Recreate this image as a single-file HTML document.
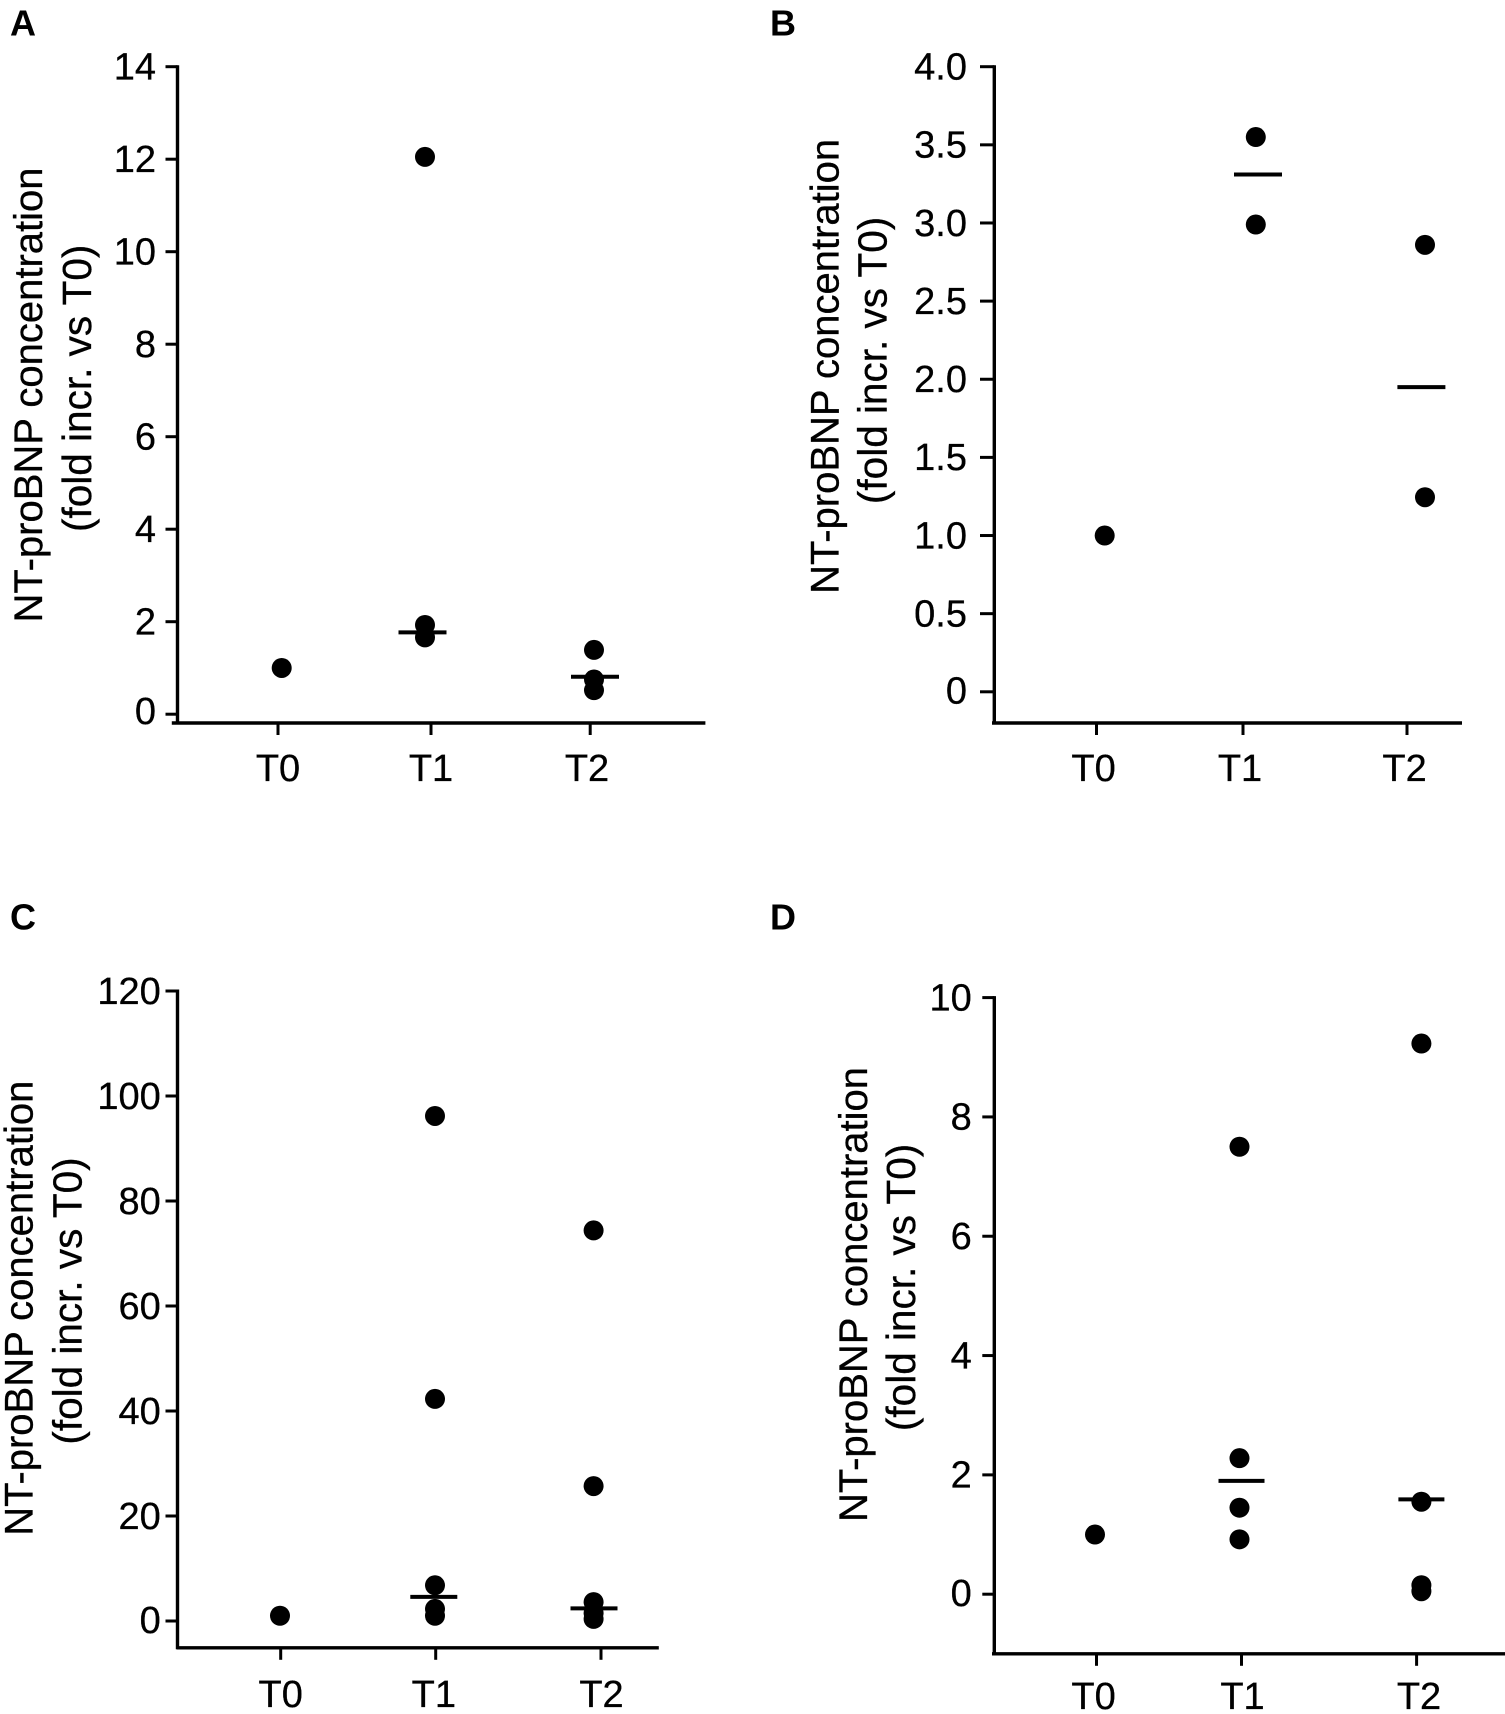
<!DOCTYPE html>
<html lang="en">
<head>
<meta charset="utf-8">
<title>NT-proBNP concentration panels</title>
<style>
html,body{margin:0;padding:0;background:#fff;}
svg{display:block;}
text{font-family:"Liberation Sans",Arial,sans-serif;fill:#000;}
.tick{font-size:38px;stroke:#000;stroke-width:0.3px;}
.title{font-size:40px;text-anchor:middle;stroke:#000;stroke-width:0.3px;}
.subtitle{font-size:40.5px;text-anchor:middle;stroke:#000;stroke-width:0.3px;}
.letter{font-size:36px;font-weight:bold;}
</style>
</head>
<body>
<svg id="figure" width="1505" height="1714" viewBox="0 0 1505 1714" xmlns="http://www.w3.org/2000/svg">
  <rect x="0" y="0" width="1505" height="1714" fill="#fff"/>
  <text class="letter" x="10" y="35.5">A</text>
  <text class="letter" x="770" y="35.5">B</text>
  <text class="letter" x="10" y="929.5">C</text>
  <text class="letter" x="770" y="929.5">D</text>

  <text class="title" transform="translate(42.2 395) rotate(-90)">NT-proBNP concentration</text>
  <text class="subtitle" transform="translate(91 388.3) rotate(-90)">(fold incr. vs T0)</text>
  <text class="title" transform="translate(838.4 366.4) rotate(-90)">NT-proBNP concentration</text>
  <text class="subtitle" transform="translate(886.4 360.4) rotate(-90)">(fold incr. vs T0)</text>
  <text class="title" transform="translate(32.6 1308.2) rotate(-90)">NT-proBNP concentration</text>
  <text class="subtitle" transform="translate(81.6 1301) rotate(-90)">(fold incr. vs T0)</text>
  <text class="title" transform="translate(867.2 1294.5) rotate(-90)">NT-proBNP concentration</text>
  <text class="subtitle" transform="translate(915 1287.4) rotate(-90)">(fold incr. vs T0)</text>
</svg>
<script>
// Shared categories
var categories = ['T0', 'T1', 'T2'];

// Panel A values
var aTickValues = [0, 2, 4, 6, 8, 10, 12, 14];
var aTickLabels = ['0', '2', '4', '6', '8', '10', '12', '14'];
var aT0 = [1];
var aT1 = [12.05, 1.93, 1.66];
var aT2 = [1.39, 0.75, 0.52];
var aMedians = [null, 1.77, 0.81];

// Panel B values
var bTickValues = [0, 0.5, 1, 1.5, 2, 2.5, 3, 3.5, 4];
var bTickLabels = ['0', '0.5', '1.0', '1.5', '2.0', '2.5', '3.0', '3.5', '4.0'];
var bT0 = [1];
var bT1 = [3.55, 2.99];
var bT2 = [2.86, 1.245];
var bMedians = [null, 3.31, 1.95];

// Panel C values
var cTickValues = [0, 20, 40, 60, 80, 100, 120];
var cTickLabels = ['0', '20', '40', '60', '80', '100', '120'];
var cT0 = [1];
var cT1 = [96.2, 42.3, 6.8, 2.3, 1];
var cT2 = [74.4, 25.7, 3.6, 1.5, 0.4];
var cMedians = [null, 4.6, 2.4];

// Panel D values
var dTickValues = [0, 2, 4, 6, 8, 10];
var dTickLabels = ['0', '2', '4', '6', '8', '10'];
var dT0 = [1];
var dT1 = [7.5, 2.28, 1.45, 0.92];
var dT2 = [9.23, 1.55, 0.15, 0.05];
var dMedians = [null, 1.9, 1.59];

// Panel geometry (layout only)
var panels = [
  { id: 'a', values: [aT0, aT1, aT2], medians: aMedians, ticks: aTickValues, labels: aTickLabels,
    axisX: 177.5, axisY: 723, xStart: 171.8, xEnd: 705.4, yTop: 66.7, yZero: 714.2, vMax: 14, zeroShift: -3,
    tickRight: 156, tickLeft: 165.5, catTicks: [278, 431, 590.2], catLabels: [278, 431, 587], catBase: 781,
    dotX: [281.7, 425, 594], medX: [0, 422.5, 595], medHalf: 24 },
  { id: 'b', values: [bT0, bT1, bT2], medians: bMedians, ticks: bTickValues, labels: bTickLabels,
    axisX: 994.3, axisY: 723, xStart: 992, xEnd: 1462, yTop: 66.7, yZero: 691.8, vMax: 4, zeroShift: -1,
    tickRight: 967, tickLeft: 980, catTicks: [1096.5, 1243, 1407], catLabels: [1093.6, 1240, 1404.6], catBase: 781,
    dotX: [1104.7, 1255.8, 1425], medX: [0, 1258, 1421.4], medHalf: 24 },
  { id: 'c', values: [cT0, cT1, cT2], medians: cMedians, ticks: cTickValues, labels: cTickLabels,
    axisX: 177.5, axisY: 1647.8, xStart: 176.6, xEnd: 658.8, yTop: 991, yZero: 1621, vMax: 120, zeroShift: -1,
    tickRight: 160.8, tickLeft: 165.5, catTicks: [280.7, 435.7, 601], catLabels: [280.7, 433.8, 601.5], catBase: 1707,
    dotX: [280, 435, 593.6], medX: [0, 433.8, 594], medHalf: 23.5 },
  { id: 'd', values: [dT0, dT1, dT2], medians: dMedians, ticks: dTickValues, labels: dTickLabels,
    axisX: 994.3, axisY: 1653.8, xStart: 992, xEnd: 1505, yTop: 997.6, yZero: 1594.2, vMax: 10, zeroShift: -1,
    tickRight: 971.8, tickLeft: 982.3, catTicks: [1096.5, 1241.5, 1416.6], catLabels: [1093.6, 1242.5, 1419], catBase: 1709,
    dotX: [1095, 1239.5, 1421.4], medX: [0, 1241.5, 1421.4], medHalf: 23 }
];

var NS = 'http://www.w3.org/2000/svg';
var svg = document.getElementById('figure');

function makeLine(x1, y1, x2, y2, width) {
  var el = document.createElementNS(NS, 'line');
  el.setAttribute('x1', x1);
  el.setAttribute('y1', y1);
  el.setAttribute('x2', x2);
  el.setAttribute('y2', y2);
  el.setAttribute('stroke', '#000');
  el.setAttribute('stroke-width', width);
  svg.appendChild(el);
  return el;
}

function makeText(x, y, str, anchor) {
  var el = document.createElementNS(NS, 'text');
  el.setAttribute('x', x);
  el.setAttribute('y', y);
  el.setAttribute('class', 'tick');
  el.setAttribute('text-anchor', anchor);
  el.textContent = str;
  svg.appendChild(el);
  return el;
}

panels.forEach(function (p) {
  function yScale(v) {
    return p.yZero - v * (p.yZero - p.yTop) / p.vMax;
  }

  var yAxis = makeLine(p.axisX, p.yTop - 1.5, p.axisX, p.axisY + 1.5, 3.4);
  
  

  var xAxis = makeLine(p.xStart, p.axisY, p.xEnd, p.axisY, 3.4);
  
  

  p.ticks.forEach(function (v, i) {
    var yy = yScale(v);
    var t = makeLine(p.tickLeft, yy, p.axisX, yy, 3);
    
    
    var shift = v === 0 ? p.zeroShift : 0;
    var lab = makeText(p.tickRight, yy + 12.8 + shift, p.labels[i], 'end');
    
    
  });

  categories.forEach(function (cat, c) {
    var t = makeLine(p.catTicks[c], p.axisY, p.catTicks[c], p.axisY + 12, 3);
    
    
    var lab = makeText(p.catLabels[c], p.catBase, cat, 'middle');
    
    

    p.values[c].forEach(function (v, k) {
      var dot = document.createElementNS(NS, 'circle');
      dot.setAttribute('cx', p.dotX[c]);
      dot.setAttribute('cy', yScale(v));
      dot.setAttribute('r', 10);
      dot.setAttribute('fill', '#000');
      
      
      svg.appendChild(dot);
    });

    if (p.medians[c] !== null) {
      var my = yScale(p.medians[c]);
      var m = makeLine(p.medX[c] - p.medHalf, my, p.medX[c] + p.medHalf, my, 4);
      
      
    }
  });
});
</script>
</body>
</html>
